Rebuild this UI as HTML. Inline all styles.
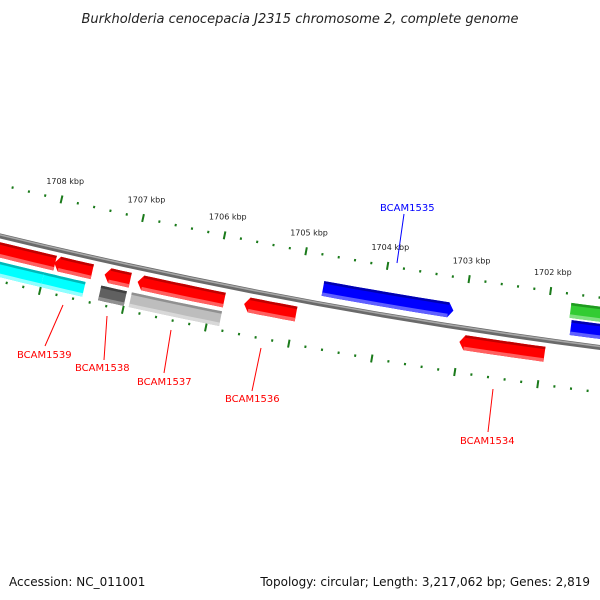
<!DOCTYPE html>
<html><head><meta charset="utf-8"><style>
body{margin:0;background:#fff;}
svg{display:block;font-family:"DejaVu Sans","Liberation Sans",sans-serif;}
</style></head><body>
<svg id="map" width="600" height="600" viewBox="0 0 600 600" xmlns="http://www.w3.org/2000/svg">
<text x="300" y="23" text-anchor="middle" font-size="13" font-style="italic" fill="#222">Burkholderia cenocepacia J2315 chromosome 2, complete genome</text>
<g id="ticks"></g>
<path d="M-20,231 Q300,310 620,350" fill="none" stroke="#6a6a6a" stroke-width="5"/>
<path d="M-20,230 Q300,309 620,349" fill="none" stroke="#a8a8a8" stroke-width="1.5"/>
<g id="genes"></g>
<g font-size="10">
<line x1="63" y1="305" x2="45" y2="346" stroke="#f00" stroke-width="1"/>
<text x="17" y="358" fill="#f00">BCAM1539</text>
<line x1="107" y1="316" x2="104" y2="360" stroke="#f00" stroke-width="1"/>
<text x="75" y="371" fill="#f00">BCAM1538</text>
<line x1="171" y1="330" x2="164" y2="373" stroke="#f00" stroke-width="1"/>
<text x="137" y="385" fill="#f00">BCAM1537</text>
<line x1="261" y1="348" x2="252" y2="391" stroke="#f00" stroke-width="1"/>
<text x="225" y="402" fill="#f00">BCAM1536</text>
<line x1="493" y1="389" x2="488" y2="432" stroke="#f00" stroke-width="1"/>
<text x="460" y="444" fill="#f00">BCAM1534</text>
<line x1="404" y1="214" x2="397" y2="263" stroke="#00f" stroke-width="1"/>
<text x="380" y="211" fill="#00f">BCAM1535</text>
</g>
<text x="9" y="586" font-size="12" fill="#111">Accession: NC_011001</text>
<text x="590" y="586" font-size="12" fill="#111" text-anchor="end">Topology: circular; Length: 3,217,062 bp; Genes: 2,819</text>
</svg>
<script>
// data (kbp)
const majorTicks = [1709, 1708, 1707, 1706, 1705, 1704, 1703, 1702, 1701];
const tickLabels = ["","1708 kbp","1707 kbp","1706 kbp","1705 kbp","1704 kbp","1703 kbp","1702 kbp","1701 kbp"];
const geneStart = [1708.90, 1707.91, 1708.90, 1708.00, 1707.30, 1707.31, 1706.90, 1706.94, 1705.61, 1704.72, 1703.00, 1701.70, 1701.73];
const geneEnd   = [1707.90, 1707.45, 1708.00, 1707.50, 1706.99, 1707.00, 1705.85, 1705.85, 1704.98, 1703.13, 1701.97, 1700.90, 1700.90];
const geneStrand = [-1, -1, 0, 0, -1, 0, -1, 0, -1, 1, -1, 1, 1];
const geneRing = [1, 1, 2, 2, 1, 2, 1, 2, 1, 1, 1, 1, 2];
const geneColor = ["red","red","cyan","cyan","red","dgray","red","lgray","red","blue","red","blue","green"];

const NS = "http://www.w3.org/2000/svg";
function uOf(k){ return 50 + (1708 - k) * 82.3; }
function by(u){ const t = u/600; return (1-t)*(1-t)*236 + 2*t*(1-t)*310 + t*t*348; }
function slope(u){ const t = u/600; return (-2*(1-t)*236 + 2*(1-2*t)*310 + 2*t*348)/600; }
function pt(u, off){ const s = slope(u), n = Math.sqrt(1+s*s); return [u - s*off/n, by(u) + off/n]; }

const tg = document.getElementById('ticks');
for (let m = 0; m < majorTicks.length - 1; m++) {
  for (let j = 0; j < 5; j++) {
    const k = majorTicks[m] - j*0.2;
    const u = uOf(k);
    const major = j === 0;
    const len = major ? 4 : 1.2;
    [-50, 44].forEach(function(base){
      const a = pt(u, base - len), b = pt(u, base + len);
      const l = document.createElementNS(NS, 'line');
      
      
      l.setAttribute('x1', a[0]); l.setAttribute('y1', a[1]);
      l.setAttribute('x2', b[0]); l.setAttribute('y2', b[1]);
      l.setAttribute('stroke', '#1a7a1a'); l.setAttribute('stroke-width', 2);
      tg.appendChild(l);
    });
  }
  if (!tickLabels[m]) continue;
  const p = pt(uOf(majorTicks[m]), -66);
  const t = document.createElementNS(NS, 'text');
  
  
  t.setAttribute('x', p[0]); t.setAttribute('y', p[1]);
  t.setAttribute('text-anchor', 'middle'); t.setAttribute('font-size', '8'); t.setAttribute('fill', '#222');
  t.textContent = tickLabels[m];
  tg.appendChild(t);
}

const pal = {
  red:["#c00000","#ff0000","#ff6060"], cyan:["#00b8b8","#00ffff","#90ffff"],
  dgray:["#404040","#606060","#909090"], lgray:["#909090","#bdbdbd","#d8d8d8"],
  blue:["#0000b0","#0000ff","#6060ff"], green:["#1f9a1f","#33cc33","#80e080"]
};
function band(u1, u2, a, b, tipL, tipR){
  const pts = [], N = 8;
  for (let i = 0; i <= N; i++) pts.push(pt(u1 + (u2-u1)*i/N, a));
  if (tipR) pts.push(pt(u2 + 5, (a+b)/2));
  for (let i = N; i >= 0; i--) pts.push(pt(u1 + (u2-u1)*i/N, b));
  if (tipL) pts.push(pt(u1 - 5, (a+b)/2));
  return pts.map(function(p){ return p[0].toFixed(1)+','+p[1].toFixed(1); }).join(' ');
}
const gg = document.getElementById('genes');
for (let i = 0; i < geneStart.length; i++) {
  const u1 = uOf(geneStart[i]), u2 = uOf(geneEnd[i]);
  const fwd = geneStrand[i] > 0;
  let a, b;
  if (fwd) { if (geneRing[i] === 1) { a = -24; b = -9; } else { a = -41; b = -26; } }
  else { if (geneRing[i] === 1) { a = 6; b = 21; } else { a = 25; b = 40; } }
  const c = pal[geneColor[i]];
  const tipL = geneStrand[i] < 0, tipR = geneStrand[i] > 0;
  const bu1 = tipL ? u1 + 5 : u1, bu2 = tipR ? u2 - 5 : u2;
  const g = document.createElementNS(NS, 'g');
  
  
  [[a, b, c[1], tipL, tipR], [a, a + 2.5, c[0], false, false], [b - 3.5, b, c[2], false, false]].forEach(function(s, k){
    const poly = document.createElementNS(NS, 'polygon');
    
    
    poly.setAttribute('points', band(bu1, bu2, s[0], s[1], s[3], s[4]));
    poly.setAttribute('fill', s[2]);
    g.appendChild(poly);
  });
  gg.appendChild(g);
}
</script>
</body></html>
